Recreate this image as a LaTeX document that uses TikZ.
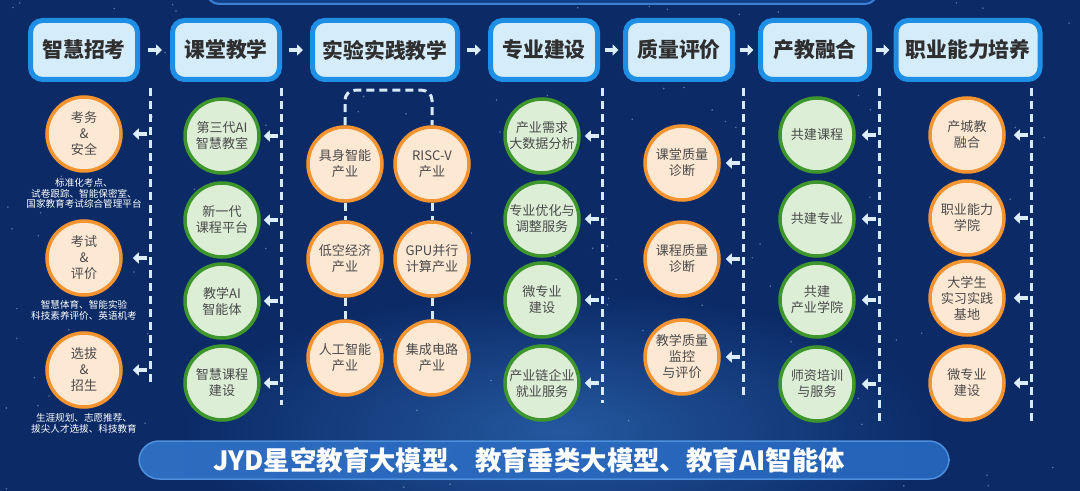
\documentclass[tikz,border=0pt]{standalone}
\usepackage{fontspec}
\setmainfont{Noto Sans CJK SC}
\usetikzlibrary{arrows.meta, positioning}
\newdimen\pxu \pxu=0.75pt
\definecolor{bgblue}{HTML}{0B2A66}
\definecolor{glowblue}{HTML}{24589F}
\definecolor{topline}{HTML}{3B7FD0}
\definecolor{topfill}{HTML}{123F8A}
\definecolor{headblue}{HTML}{1F8FE5}
\definecolor{headfill}{HTML}{D5ECFB}
\definecolor{headtext}{HTML}{2F2F2F}
\definecolor{orngline}{HTML}{F39431}
\definecolor{orngfill}{HTML}{FDE8D4}
\definecolor{grnline}{HTML}{3F962D}
\definecolor{grnfill}{HTML}{DCEED5}
\definecolor{orbtext}{HTML}{4A4A4A}
\definecolor{dashblue}{HTML}{D6EAFB}
\definecolor{arrblue}{HTML}{DCEDFC}
\definecolor{bannerl}{HTML}{2E6CC0}
\definecolor{bannerm}{HTML}{103D8A}
\definecolor{bannerr}{HTML}{2563B8}
\definecolor{bannerline}{HTML}{4D8FDC}

\begin{document}
\begin{tikzpicture}[x=0.75pt, y=-0.75pt,
  head/.style={draw=headblue, line width=5\pxu, fill=headfill, rounded corners=12\pxu, minimum height=59\pxu, inner sep=0pt, text=headtext, font=\fontsize{15.6}{18}\selectfont\bfseries},
  orb/.style={circle, line width=3.5\pxu, minimum size=74\pxu, inner sep=0pt, align=center, text=orbtext, font=\fontsize{9.8}{12}\selectfont},
  orng/.style={orb, draw=orngline, fill=orngfill},
  grn/.style={orb, draw=grnline, fill=grnfill},
  dashline/.style={draw=dashblue, line width=3\pxu, dash pattern=on 8\pxu off 5\pxu},
  flow/.style={-{Triangle[length=4.5pt, width=8.25pt]}, draw=arrblue, line width=4\pxu},
  note/.style={text=white, align=center, font=\fontsize{7.2}{7.9}\selectfont},
  banner/.style={draw=bannerline, line width=1.5\pxu, rounded corners=20\pxu, minimum width=810\pxu, minimum height=38\pxu, left color=bannerl, middle color=bannerm, right color=bannerr, text=white, font=\fontsize{19.8}{22}\selectfont\bfseries}]
\useasboundingbox (0,0) rectangle (1080,491);
% background
\fill[bgblue] (0,0) rectangle (1080,491);
\shade[inner color=glowblue, outer color=bgblue] (560,430) ellipse [x radius=380, y radius=140];
\pgfmathsetseed{11}
\foreach \i in {1,...,140} \fill[white, opacity=0.35] (1080*rnd, 491*rnd) circle (0.9\pxu);
\draw[draw=topline, fill=topfill, line width=2\pxu, rounded corners=12\pxu] (207,-40) rectangle (877,4);

% stages
\node[head, minimum width=107\pxu] (hzs) at (84,50) {智慧招考};
\node[head, minimum width=107\pxu] (hkt) at (226,50) {课堂教学};
\node[head, minimum width=145\pxu] (hsy) at (385,50) {实验实践教学};
\node[head, minimum width=107\pxu] (hzy) at (544,50) {专业建设};
\node[head, minimum width=107\pxu] (hzl) at (679,50) {质量评价};
\node[head, minimum width=109\pxu] (hcj) at (815,50) {产教融合};
\node[head, minimum width=144\pxu] (hzn) at (968,50) {职业能力培养};
\foreach \a/\b/\s in {hzs/hkt/8, hkt/hsy/7, hsy/hzy/7, hzy/hzl/4.5, hzl/hcj/4.5, hcj/hzn/4}
  \draw[flow, shorten <=\s\pxu, shorten >=\s\pxu] (\a) -- (\b);

% dashed rails
\foreach \n/\x/\b in {l1/150/387, l2/281/405, l4/602/403, l5/743/397, l6/879/422, l7/1031/422} {
  \coordinate (\n) at (\x,88);
  \draw[dashline] (\n) -- (\x,\b);
}

% 智慧招考
\node[orng] (a1) at (84,134) {考务\\\&\\安全};
\node[orng] (a2) at (84,258) {考试\\\&\\评价};
\node[orng] (a3) at (84,370) {选拔\\\&\\招生};
\node[note] (n1) at (84,193.5) {标准化考点、\\试卷跟踪、智能保密室、\\国家教育考试综合管理平台};
\node[note] (n2) at (84,310.5) {智慧体育、智能实验\\科技素养评价、英语机考};
\node[note] (n3) at (84,423.5) {生涯规划、志愿推荐、\\拔尖人才选拔、科技教育};

% 课堂教学
\node[grn] (b1) at (222,136) {第三代AI\\智慧教室};
\node[grn] (b2) at (222,220) {新一代\\课程平台};
\node[grn] (b3) at (222,301) {教学AI\\智能体};
\node[grn] (b4) at (222,383) {智慧课程\\建设};

% 实验实践教学
\node[orng] (e1) at (345,164) {具身智能\\产业};
\node[orng] (e2) at (432,164) {RISC-V\\产业};
\node[orng] (e3) at (345,259) {低空经济\\产业};
\node[orng] (e4) at (432,259) {GPU并行\\计算产业};
\node[orng] (e5) at (345,358) {人工智能\\产业};
\node[orng] (e6) at (432,358) {集成电路\\产业};
\draw[dashline, rounded corners=10\pxu] (e1.north) -- ++(0,-35) -| (e2.north);
\draw[dashline] (e1) -- (e3) (e3) -- (e5) (e2) -- (e4) (e4) -- (e6);

% 专业建设
\node[grn] (d1) at (542,136) {产业需求\\大数据分析};
\node[grn] (d2) at (542,219) {专业优化与\\调整服务};
\node[grn] (d3) at (542,300) {微专业\\建设};
\node[grn] (d4) at (542,383) {产业链企业\\就业服务};

% 质量评价
\node[orng] (f1) at (682,163) {课堂质量\\诊断};
\node[orng] (f2) at (682,259) {课程质量\\诊断};
\node[orng] (f3) at (682,357) {教学质量\\监控\\与评价};

% 产教融合
\node[grn] (g1) at (817,135) {共建课程};
\node[grn] (g2) at (817,219) {共建专业};
\node[grn] (g3) at (817,300) {共建\\产业学院};
\node[grn] (g4) at (817,384) {师资培训\\与服务};

% 职业能力培养
\node[orng] (k1) at (967,135) {产城教\\融合};
\node[orng] (k2) at (967,218) {职业能力\\学院};
\node[orng] (k3) at (967,298) {大学生\\实习实践\\基地};
\node[orng] (k4) at (967,383) {微专业\\建设};

\foreach \c/\l/\s in {a1/l1/10, a2/l1/10, a3/l1/10, b1/l2/3, b2/l2/3, b3/l2/3, b4/l2/3,
    d1/l4/4, d2/l4/4, d3/l4/4, d4/l4/4, f1/l5/5, f2/l5/5, f3/l5/5,
    g1/l6/6, g2/l6/6, g3/l6/6, g4/l6/6, k1/l7/8, k2/l7/8, k3/l7/8, k4/l7/8}
  \draw[flow, shorten <=3\pxu, shorten >=\s\pxu] (\c.east -| \l) -- (\c.east);

\node[banner] (base) at (544,460) {JYD星空教育大模型、教育垂类大模型、教育AI智能体\hspace*{30\pxu}};
\end{tikzpicture}
\end{document}
